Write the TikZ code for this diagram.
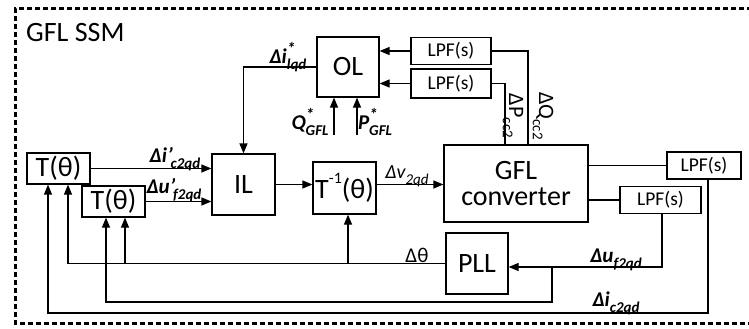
\documentclass[tikz,border=0pt]{standalone}
\usepackage{fontspec}
\setmainfont{Carlito}
\usetikzlibrary{arrows.meta}
\newcommand\fs[1]{\fontsize{#1}{#1}\selectfont}
\newcommand\supsub[2]{\makebox[0pt][l]{\raisebox{0.45em}{\fs{17}#1}}\raisebox{-0.28em}{\fs{15}#2}}
\newcommand\sbs[1]{\raisebox{-0.28em}{\fs{15}#1}}
\begin{document}
\begin{tikzpicture}[x=1pt,y=-1pt,
  blk/.style={draw, line width=1.2pt, inner sep=0pt, align=center, font=\fs{28}},
  lpf/.style={draw, line width=1.2pt, inner sep=0pt, font=\fs{19.5}, minimum height=27pt},
  arr/.style={line width=1.2pt, -{Triangle[length=10pt,width=8pt]}},
  ln/.style={line width=1.2pt},
  lab/.style={inner sep=0pt, font=\fs{21}}]
\useasboundingbox (0,0) rectangle (749,329);
% border
\draw[line width=3pt, dash pattern=on 5pt off 3pt] (760,9) -- (15,9) -- (15,323) -- (760,323);
\node[anchor=west, inner sep=0pt, font=\fs{28}] (title) at (26,33) {GFL SSM};
% blocks
\node[blk, minimum width=62pt, minimum height=60pt] (OL) at (348,67) {OL};
\node[blk, minimum width=63pt, minimum height=61pt] (IL) at (243.5,184.5) {IL};
\node[blk, minimum width=63pt, minimum height=52pt] (Tinv) at (344.5,188) {T\raisebox{0.55em}{\fs{16}-1}(θ)};
\node[blk, minimum width=144pt, minimum height=77pt] (GFL) at (516,183.5) {GFL\\[-2pt]converter};
\node[blk, minimum width=62pt, minimum height=61pt] (PLL) at (477,263.5) {PLL};
\node[blk, minimum width=63pt, minimum height=31pt] (T1) at (58.5,168.5) {T(θ)};
\node[blk, minimum width=63pt, minimum height=31pt] (T2) at (113.5,201.5) {T(θ)};
\node[lpf, minimum width=80pt] (LPF1) at (451,51) {LPF(s)};
\node[lpf, minimum width=80pt, minimum height=29pt] (LPF2) at (451,83.5) {LPF(s)};
\node[lpf, minimum width=74pt] (LPF3) at (704,165.5) {LPF(s)};
\node[lpf, minimum width=81pt] (LPF4) at (660.5,200) {LPF(s)};
% top part
\draw[arr] (LPF1.west) -- (LPF1.west -| OL.east);
\draw[arr] (LPF2.west) -- (LPF2.west -| OL.east);
\draw[ln] (LPF1.east) -| ([xshift=12pt]GFL.north);
\draw[ln] (LPF2.east) -| ([xshift=-11pt]GFL.north);
\draw[arr] (OL.west) -| (IL.north);
\coordinate (q0) at (334,135);
\coordinate (p0) at (357,135);
\draw[arr] (q0) -- (q0 |- OL.south);
\draw[arr] (p0) -- (p0 |- OL.south);
% forward path
\draw[arr] (T1.east) -- (T1.east -| IL.west);
\draw[arr] (T2.east) -- (T2.east -| IL.west);
\draw[arr] (IL.east) -- (IL.east -| Tinv.west);
\draw[arr] (Tinv.east |- IL.east) -- (GFL.west |- IL.east);
\draw[ln] (GFL.east |- LPF3.west) -- (LPF3.west);
\draw[ln] (GFL.east |- LPF4.west) -- (LPF4.west);
% feedback
\draw[arr] (PLL.west) -| ([xshift=9.5pt]T1.south);
\coordinate (b1) at (125,263.5);
\coordinate (b2) at (348,263.5);
\draw[arr] (b1) -- (b1 |- T2.south);
\draw[arr] (b2) -- (b2 |- Tinv.south);
\coordinate (uj) at (552,267);
\coordinate (ub) at (552,302);
\draw[arr] ([xshift=1.5pt]LPF4.south) |- (PLL.east |- uj);
\draw[arr] (uj) -- (ub) -| ([xshift=-7.5pt]T2.south);
\coordinate (ib) at (708,313);
\draw[arr] ([xshift=4pt]LPF3.south) -- (ib) -| ([xshift=-10.5pt]T1.south);
% labels
\node[lab] (l1) at (288,57) {\textbf{\textit{Δi\supsub{*}{lqd}}}\hspace{6pt}};
\node[lab] (l2) at (310,122) {\textbf{\textit{Q\supsub{*}{GFL}}}\hspace{16pt}};
\node[lab] (l3) at (375,122) {\textbf{\textit{P\supsub{*}{GFL}}}\hspace{16pt}};
\node[lab] (l4) at (175,159) {\textbf{\textit{Δi’\hspace{-2pt}\sbs{c2qd}}}};
\node[lab] (l5) at (174,190) {\textbf{\textit{Δu’\hspace{-2pt}\sbs{f2qd}}}};
\node[lab, font=\fs{20}] (l6) at (407,176) {\textit{Δv\sbs{2qd}}};
\node[lab] (l7) at (417,255) {Δθ};
\node[lab] (l8) at (616,260) {\textbf{\textit{Δu\sbs{f2qd}}}};
\node[lab] (l9) at (616,303) {\textbf{\textit{Δi\sbs{c2qd}}}};
\node[lab, rotate=-90, font=\fs{22}] (l10) at (513,116) {ΔP\sbs{cc2}};
\node[lab, rotate=-90, font=\fs{22}] (l11) at (543,116) {ΔQ\sbs{cc2}};
\end{tikzpicture}
\end{document}
